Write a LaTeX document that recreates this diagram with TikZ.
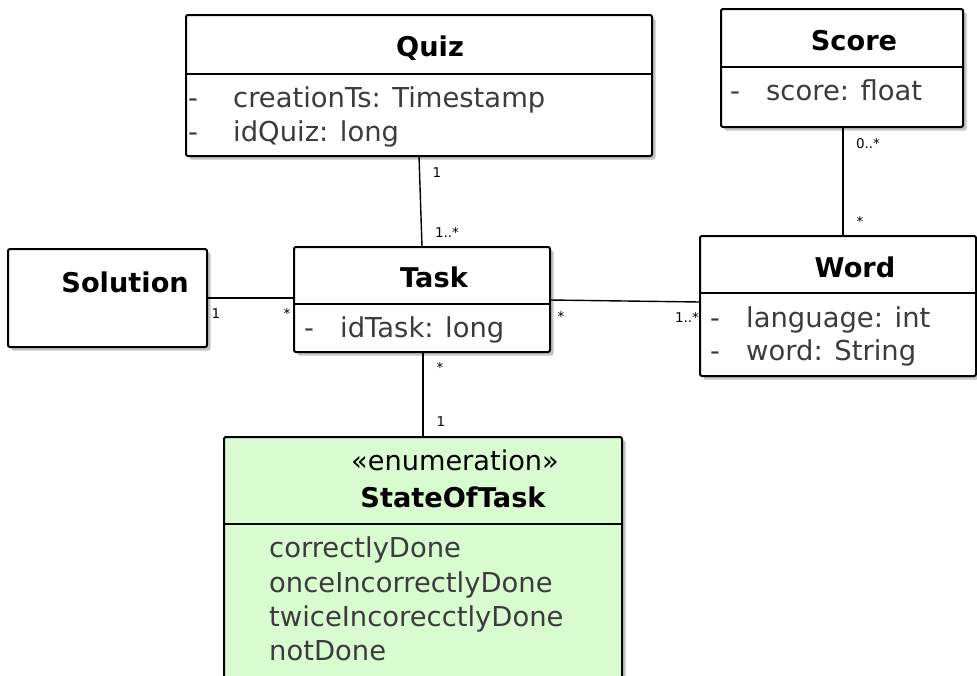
\documentclass[tikz,border=0pt]{standalone}
\usepackage{fontspec}
\setmainfont{DejaVu Sans}
\usetikzlibrary{shadows}
\definecolor{enumfill}{RGB}{216,252,208}
\definecolor{attrgray}{RGB}{60,60,60}
\definecolor{shadegray}{RGB}{170,170,170}
\begin{document}
\begin{tikzpicture}[x=1pt,y=-1pt,
  box/.style={draw, line width=2pt, rounded corners=2pt, fill=white, inner sep=0pt, outer sep=0pt,
    drop shadow={shadow xshift=3.5pt, shadow yshift=-3.5pt, fill=shadegray, opacity=0.7}},
  title/.style={font=\fontsize{27.2}{32}\selectfont\bfseries, inner sep=0pt, anchor=base},
  stereo/.style={font=\fontsize{27.2}{32}\selectfont, inner sep=0pt, anchor=base},
  attrtext/.style={font=\fontsize{27.4}{32}\selectfont, text=attrgray, inner sep=0pt, anchor=base west},
  mult/.style={font=\fontsize{13.5}{15}\selectfont, text=black, inner sep=0pt, anchor=base},
  sepline/.style={line width=1.4pt},
  conn/.style={line width=1.4pt}]
\clip (0,0) rectangle (977,675);
\fill[white] (0,0) rectangle (977,675);

% boxes
\node[box, minimum width=466pt, minimum height=141pt] (quiz) at (419,85.5) {};
\node[box, minimum width=242pt, minimum height=118pt] (score) at (842,68) {};
\node[box, minimum width=199pt, minimum height=98pt] (solution) at (107.5,298) {};
\node[box, minimum width=256pt, minimum height=105pt] (task) at (422,299.5) {};
\node[box, minimum width=276pt, minimum height=140pt] (word) at (838,306) {};
\node[box, fill=enumfill, minimum width=398pt, minimum height=263pt] (enum) at (423,568.5) {};

% compartment separators
\draw[sepline] (quiz.west |- 0,74) -- (quiz.east |- 0,74);
\draw[sepline] (score.west |- 0,67) -- (score.east |- 0,67);
\draw[sepline] (task.west |- 0,304) -- (task.east |- 0,304);
\draw[sepline] (word.west |- 0,293) -- (word.east |- 0,293);
\draw[sepline] (enum.west |- 0,524) -- (enum.east |- 0,524);

% titles
\node[title] (quizT) at (430,56) {Quiz};
\node[title] (scoreT) at (854,50) {Score};
\node[title, anchor=base east] (solT) at (189,292) {Solution};
\node[title] (taskT) at (434,287) {Task};
\node[title] (wordT) at (855,277) {Word};
\node[stereo] (enumS) at (455,470) {«enumeration»};
\node[title] (enumT) at (453,507) {StateOfTask};

% attributes
\node[attrtext] (qd1) at (188,107) {-};
\node[attrtext] (qa1) at (233,107) {creationTs: Timestamp};
\node[attrtext] (qd2) at (188,141) {-};
\node[attrtext] (qa2) at (233,141) {idQuiz: long};
\node[attrtext] (sd1) at (730,100) {-};
\node[attrtext] (sa1) at (766,100) {score: float};
\node[attrtext] (td1) at (304,337) {-};
\node[attrtext] (ta1) at (340,337) {idTask: long};
\node[attrtext] (wd1) at (710,327) {-};
\node[attrtext] (wa1) at (746,327) {language: int};
\node[attrtext] (wd2) at (710,360) {-};
\node[attrtext] (wa2) at (746,360) {word: String};
\node[attrtext] (e1) at (269,557) {correctlyDone};
\node[attrtext] (e2) at (269,592) {onceIncorrectlyDone};
\node[attrtext] (e3) at (269,626) {twiceIncorecctlyDone};
\node[attrtext] (e4) at (269,660) {notDone};

% connectors
\draw[conn] (quiz.south -| 419,0) -- (task.north -| 422,0);
\draw[conn] (score.south -| 843,0) -- (word.north -| 843,0);
\draw[conn] (solution.east |- 0,298) -- (task.west |- 0,298);
\draw[conn] (task.east |- 0,300) -- (word.west |- 0,302);
\draw[conn] (task.south -| 423,0) -- (enum.north -| 423,0);

% multiplicities
\node[mult] (m1) at (437,177) {1};
\node[mult] (m2) at (447,237) {1..*};
\node[mult] (m3) at (868,148) {0..*};
\node[mult] (m4) at (860,226) {*};
\node[mult] (m5) at (216,318) {1};
\node[mult] (m6) at (287,318) {*};
\node[mult] (m7) at (561,321) {*};
\node[mult] (m8) at (687,322) {1..*};
\node[mult] (m9) at (440,372) {*};
\node[mult] (m10) at (441,426) {1};
\end{tikzpicture}
\end{document}
